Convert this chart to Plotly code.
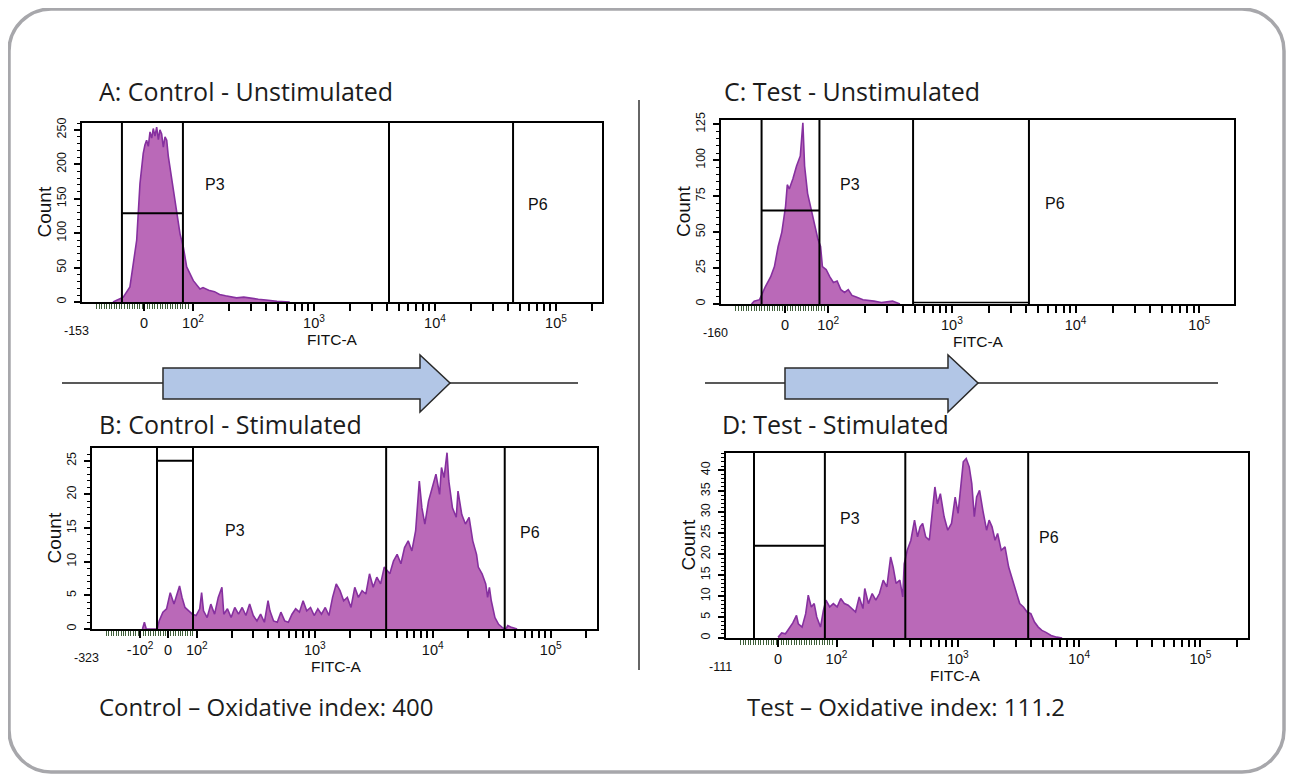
import math
import plotly.graph_objects as go

W, H = 1294, 782          # page (window) size
OFF = 8                   # default body margin of the written page
FW, FH = W - 2 * OFF, H - 2 * OFF

# ---------------- data (x = display position in decades: 10^k -> k) ----------------
A_pos = [1.339, 1.424, 1.479, 1.535, 1.562, 1.589, 1.603, 1.617, 1.631, 1.645, 1.659, 1.672, 1.686,
         1.700, 1.714, 1.727, 1.741, 1.755, 1.769, 1.783, 1.796, 1.810, 1.838, 1.865, 1.893, 1.920,
         1.948, 2.003, 2.058, 2.083, 2.130, 2.178, 2.220, 2.269, 2.310, 2.360, 2.420, 2.479, 2.540,
         2.603, 2.650, 2.694, 2.800]
A_cnt = [0, 7, 22, 90, 172, 216, 228, 235, 226, 247, 238, 252, 241, 254, 236, 250, 244, 225, 240,
         235, 212, 196, 167, 138, 99, 80, 51, 31, 19, 21, 17, 15, 11, 9, 8, 6, 7, 5, 4, 3, 2, 1, 0]

B_pos = [1.540, 1.556, 1.572, 1.665, 1.681, 1.713, 1.744, 1.775, 1.807, 1.838, 1.854, 1.875, 1.900,
         1.932, 1.963, 1.994, 2.025, 2.041, 2.057, 2.088, 2.119, 2.151, 2.182, 2.213, 2.229, 2.260,
         2.291, 2.322, 2.354, 2.385, 2.416, 2.448, 2.479, 2.510, 2.541, 2.573, 2.604, 2.620, 2.651,
         2.682, 2.713, 2.745, 2.776, 2.807, 2.838, 2.870, 2.901, 2.932, 2.964, 2.995, 3.026, 3.057,
         3.089, 3.120, 3.151, 3.182, 3.214, 3.245, 3.276, 3.307, 3.339, 3.370, 3.401, 3.433, 3.464,
         3.495, 3.526, 3.558, 3.589, 3.614, 3.636, 3.667, 3.698, 3.730, 3.761, 3.792, 3.823, 3.855,
         3.870, 3.886, 3.908, 3.933, 3.964, 3.995, 4.027, 4.058, 4.074, 4.096, 4.121, 4.136, 4.167,
         4.199, 4.214, 4.246, 4.277, 4.308, 4.339, 4.371, 4.386, 4.418, 4.449, 4.465, 4.480, 4.496,
         4.527, 4.558, 4.590, 4.620, 4.636, 4.660, 4.683, 4.715]
B_cnt = [0, 1, 0, 0, 1.2, 2.5, 3, 5.4, 3.7, 5.4, 6.4, 4.7, 3.2,
         2.7, 2.2, 2, 3, 5.4, 2.7, 1.7, 3.7, 2.2, 4.7, 6.2, 2.2, 3,
         1.7, 3.2, 2.2, 3.2, 2, 3.7, 2, 1.2, 2.2, 1, 4.2, 2.7, 1.2,
         1, 2.5, 1.2, 1, 2.2, 3, 2.5, 4.2, 2.7, 3.2, 2, 3, 2.2,
         3.2, 2, 4.7, 6.7, 5.7, 4.2, 4.7, 3.2, 6.2, 4.7, 5.7, 5.2, 8.2,
         6.2, 7.7, 6.7, 9.2, 8.7, 8.2, 10.1, 11.1, 9.7, 12.1, 13.1, 11.6, 14.6,
         19, 22, 18, 15.6, 19, 21, 23, 20, 24, 22.5, 26.2, 22, 18,
         16.6, 20.5, 17, 15.6, 16.6, 13.1, 11.1, 9.2, 8.2, 6.7, 4.7, 6.2, 4.2,
         1.7, 0.7, 0.2, 0, 0.5, 0.3, 0.2, 0]

C_pos = [1.380, 1.401, 1.445, 1.491, 1.535, 1.565, 1.595, 1.625, 1.655, 1.669, 1.685, 1.714, 1.744,
         1.774, 1.795, 1.809, 1.833, 1.863, 1.893, 1.917, 1.938, 1.953, 1.983, 2.012, 2.042, 2.072,
         2.102, 2.132, 2.162, 2.192, 2.221, 2.281, 2.370, 2.430, 2.520, 2.580]
C_cnt = [0, 2, 3, 12, 19, 26, 40, 50, 68, 83, 80, 87, 96,
         103, 126, 96, 77, 66, 54, 45, 40, 26, 24, 19, 15, 16,
         10, 8, 10, 6, 5, 3, 2, 1, 2, 0]

D_pos = [1.518, 1.548, 1.579, 1.609, 1.640, 1.670, 1.685, 1.716, 1.746, 1.767, 1.792, 1.816, 1.837,
         1.868, 1.892, 1.913, 1.944, 1.974, 2.005, 2.035, 2.065, 2.096, 2.126, 2.157, 2.187, 2.218,
         2.233, 2.263, 2.294, 2.324, 2.354, 2.385, 2.415, 2.446, 2.467, 2.491, 2.522, 2.546, 2.558,
         2.583, 2.613, 2.643, 2.668, 2.689, 2.710, 2.735, 2.765, 2.811, 2.832, 2.856, 2.887, 2.917,
         2.948, 2.978, 3.002, 3.024, 3.045, 3.069, 3.094, 3.115, 3.136, 3.155, 3.179, 3.206, 3.237,
         3.258, 3.282, 3.307, 3.328, 3.358, 3.389, 3.419, 3.450, 3.480, 3.510, 3.541, 3.571, 3.602,
         3.632, 3.663, 3.693, 3.723, 3.769, 3.815, 3.860]
D_cnt = [0.2, 1.2, 1, 2.2, 3.6, 5.4, 3.4, 2.6, 5.8, 10.2, 7.4, 8.2, 5,
         2.6, 6.6, 9, 7.4, 8.2, 7.4, 9.4, 8.2, 7.8, 7, 6.2, 9.8, 7,
         11.8, 8.2, 10.6, 9, 10.6, 13.8, 12.2, 19.3, 16.9, 13, 13.8, 9.8, 17.7,
         20.9, 23.3, 28.1, 24.1, 26.5, 27.3, 24.1, 23.3, 36, 32, 34.4, 28.9, 25.7,
         27.3, 33.6, 29.7, 36.8, 42, 42.8, 40.8, 36.8, 28.9, 33.6, 35.2, 30.5, 25.7,
         28.1, 26.5, 23.3, 24.9, 20.9, 21.7, 16.9, 13.8, 11.4, 8.2, 7.4, 6.2, 5.8,
         3.8, 2.6, 1.8, 1.4, 0.6, 0.2, 0]

# gates (display positions) and horizontal gate-marker levels (counts)
A_gates = [1.413, 1.917, 3.620, 4.645]; A_hgate = 129
B_gates = [1.663, 1.968, 3.605, 4.610]; B_hgate = 25
C_gates = [1.461, 1.929, 2.686, 3.623]; C_hgate = 65
D_gates = [1.320, 1.904, 2.567, 3.580]; D_hgate = 22

# tick labels
SUP = ["10<sup>2</sup>", "10<sup>3</sup>", "10<sup>4</sup>", "10<sup>5</sup>"]
A_tickpos = [1.595, 2, 3, 4, 5]; A_ticktext = ["0"] + SUP; A_low = "-153"
B_tickpos = [1.520, 1.757, 2, 3, 4, 5]; B_ticktext = ["-10<sup>2</sup>", "0"] + SUP; B_low = "-323"
C_tickpos = [1.650, 2, 3, 4, 5]; C_ticktext = ["0"] + SUP; C_low = "-160"
D_tickpos = [1.517, 2, 3, 4, 5]; D_ticktext = ["0"] + SUP; D_low = "-111"

# P-label positions (display x, count)
A_P3 = (2.18, 170); A_P6 = (4.85, 142)
B_P3 = (2.32, 14.7); B_P6 = (4.82, 14.4)
C_P3 = (2.18, 83); C_P6 = (3.83, 70)
D_P3 = (2.11, 28.6); D_P6 = (3.75, 23.9)

titles = ["A: Control - Unstimulated", "B: Control - Stimulated",
          "C: Test - Unstimulated", "D: Test - Stimulated"]
footers = ["Control \u2013 Oxidative index: 400", "Test \u2013 Oxidative index: 111.2"]

# ---------------- layout geometry (page pixels) ----------------
panels = [
    dict(pos=A_pos, cnt=A_cnt, gates=A_gates, hg=A_hgate, tp=A_tickpos, tt=A_ticktext, low=A_low,
         p3=A_P3, p6=A_P6, box=(82, 602, 123, 302), xr=(1.083, 5.380), ymax=260, dt=50, mdt=10,
         fitc=332),
    dict(pos=B_pos, cnt=B_cnt, gates=B_gates, hg=B_hgate, tp=B_tickpos, tt=B_ticktext, low=B_low,
         p3=B_P3, p6=B_P6, box=(92, 597, 448, 629), xr=(1.112, 5.392), ymax=26.9, dt=5, mdt=1,
         fitc=336),
    dict(pos=C_pos, cnt=C_cnt, gates=C_gates, hg=C_hgate, tp=C_tickpos, tt=C_ticktext, low=C_low,
         p3=C_P3, p6=C_P6, box=(721, 1234, 120, 304), xr=(1.133, 5.281), ymax=128, dt=25, mdt=5,
         fitc=978),
    dict(pos=D_pos, cnt=D_cnt, gates=D_gates, hg=D_hgate, tp=D_tickpos, tt=D_ticktext, low=D_low,
         p3=D_P3, p6=D_P6, box=(726, 1248, 453, 638), xr=(1.089, 5.392), ymax=44.1, dt=5, mdt=1,
         fitc=955),
]

def px(x):
    return (x - OFF) / FW

def py(y):
    return 1 - (y - OFF) / FH

FILL = "rgba(180,92,178,0.92)"
EDGE = "#86309f"
SANS = "Liberation Sans, Arial, sans-serif"
NARROW = "Liberation Sans Narrow, Liberation Sans, Arial, sans-serif"
XTICKFONT = dict(family=SANS, size=14.5, color="#111")
YTICKFONT = dict(family=NARROW, size=12.5, color="#111")

def ann(text, x, y, size, family=SANS, xanchor="center", angle=0, color="#111"):
    return dict(text=text, x=px(x), y=py(y), xref="paper", yref="paper", showarrow=False,
                xanchor=xanchor, yanchor="middle", textangle=angle,
                font=dict(family=family, size=size, color=color))

fig = go.Figure()
shapes = []
annotations = []
layout = {}

for i, p in enumerate(panels):
    n = "" if i == 0 else str(i + 1)
    xa, ya = "x" + n, "y" + n
    x0, x1, y0, y1 = p["box"]
    fig.add_trace(go.Scatter(x=p["pos"], y=p["cnt"], xaxis=xa, yaxis=ya, mode="lines",
                             line=dict(color=EDGE, width=1.6), fill="tozeroy",
                             fillcolor=FILL, hoverinfo="skip", showlegend=False))
    tv, tt = list(p["tp"]), list(p["tt"])
    for k in range(2, 6):
        for m in range(2, 10):
            v = k + math.log10(m)
            if v < p["xr"][1]:
                tv.append(v); tt.append("")
    lin_minor = []
    v = p["xr"][0] + 0.12
    while v < 1.97:
        lin_minor.append(round(v, 4)); v += 0.021
    layout["xaxis" + n] = dict(
        domain=[px(x0), px(x1)], range=list(p["xr"]), anchor=ya,
        showline=True, linecolor="black", linewidth=2, mirror=True,
        showgrid=False, zeroline=False, ticks="outside", ticklen=7, tickwidth=1.5,
        tickcolor="black", tickmode="array", tickvals=tv, ticktext=tt, tickfont=XTICKFONT,
        minor=dict(tickmode="array", tickvals=lin_minor, ticks="outside", ticklen=5,
                   tickcolor="#3f5f3a", tickwidth=1),
        automargin=False, fixedrange=True)
    layout["yaxis" + n] = dict(
        domain=[py(y1), py(y0)], range=[0, p["ymax"]], anchor=xa,
        showline=True, linecolor="black", linewidth=2, mirror=True,
        showgrid=False, zeroline=False, ticks="outside", ticklen=6, tickwidth=1.5,
        tickcolor="black", dtick=p["dt"], tick0=0, tickangle=-90, tickfont=YTICKFONT,
        ticklabelstandoff=3,
        minor=dict(dtick=p["mdt"], ticks="outside", ticklen=3, tickcolor="black", tickwidth=1),
        automargin=False, fixedrange=True)
    for g in p["gates"]:
        shapes.append(dict(type="line", xref=xa, yref=ya, x0=g, x1=g, y0=0, y1=p["ymax"],
                           line=dict(color="black", width=2)))
    shapes.append(dict(type="line", xref=xa, yref=ya, x0=p["gates"][0], x1=p["gates"][1],
                       y0=p["hg"], y1=p["hg"], line=dict(color="black", width=2)))
    if i == 2:
        shapes.append(dict(type="line", xref=xa, yref=ya, x0=p["gates"][2], x1=p["gates"][3],
                           y0=1, y1=1, line=dict(color="black", width=1.5)))
    for lab, (lx, ly) in (("P3", p["p3"]), ("P6", p["p6"])):
        annotations.append(dict(text=lab, x=lx, y=ly, xref=xa, yref=ya, showarrow=False,
                                xanchor="center", yanchor="middle",
                                font=dict(family=SANS, size=16, color="#111")))
    annotations.append(ann(p["low"], x0 - 6, y1 + 29, 12.5))
    annotations.append(ann("FITC-A", p["fitc"], y1 + 37, 15.5))
    annotations.append(ann("Count", x0 - 38, (y0 + y1) / 2, 19, angle=-90))

TITLEFONT = "Open Sans, sans-serif"
title_xy = [(97, 91), (97, 424), (722, 91), (720, 424)]
for t, (tx, ty) in zip(titles, title_xy):
    annotations.append(ann(t, tx, ty, 25, family=TITLEFONT, xanchor="left", color="#1c1c1c"))
for t, (tx, ty) in zip(footers, [(97, 706), (745, 706)]):
    annotations.append(ann(t, tx, ty, 24, family=TITLEFONT, xanchor="left", color="#1c1c1c"))

# rounded frame
fx0, fx1, fy0, fy1, r = 9, 1284, 9, 772, 42
k = 0.45
def P(x, y):
    return f"{px(x):.5f},{py(y):.5f}"
frame = (f"M {P(fx0 + r, fy0)} L {P(fx1 - r, fy0)} "
         f"C {P(fx1 - r * k, fy0)} {P(fx1, fy0 + r * k)} {P(fx1, fy0 + r)} "
         f"L {P(fx1, fy1 - r)} C {P(fx1, fy1 - r * k)} {P(fx1 - r * k, fy1)} {P(fx1 - r, fy1)} "
         f"L {P(fx0 + r, fy1)} C {P(fx0 + r * k, fy1)} {P(fx0, fy1 - r * k)} {P(fx0, fy1 - r)} "
         f"L {P(fx0, fy0 + r)} C {P(fx0, fy0 + r * k)} {P(fx0 + r * k, fy0)} {P(fx0 + r, fy0)} Z")
shapes.append(dict(type="path", xref="paper", yref="paper", path=frame,
                   line=dict(color="#a7a7ab", width=3.5), layer="below"))

# divider
shapes.append(dict(type="line", xref="paper", yref="paper", x0=px(639), x1=px(639),
                   y0=py(100), y1=py(670), line=dict(color="#333", width=1.5)))

# arrows
for (lx0, lx1, bx0, hb, tip) in [(62, 578, 163, 420, 450), (705, 1218, 785, 948, 978)]:
    shapes.append(dict(type="line", xref="paper", yref="paper", x0=px(lx0), x1=px(lx1),
                       y0=py(383), y1=py(383), line=dict(color="#222", width=1.5)))
    path = (f"M {P(bx0, 368)} L {P(hb, 368)} L {P(hb, 355)} L {P(tip, 383)} L {P(hb, 412)} "
            f"L {P(hb, 399)} L {P(bx0, 399)} Z")
    shapes.append(dict(type="path", xref="paper", yref="paper", path=path,
                       fillcolor="#b2c6e6", line=dict(color="#2a2a2a", width=1.5)))

fig.update_layout(width=FW, height=FH, margin=dict(l=0, r=0, t=0, b=0, autoexpand=False),
                  paper_bgcolor="white", plot_bgcolor="white",
                  shapes=shapes, annotations=annotations, **layout)
fig.write_html("out.html")
